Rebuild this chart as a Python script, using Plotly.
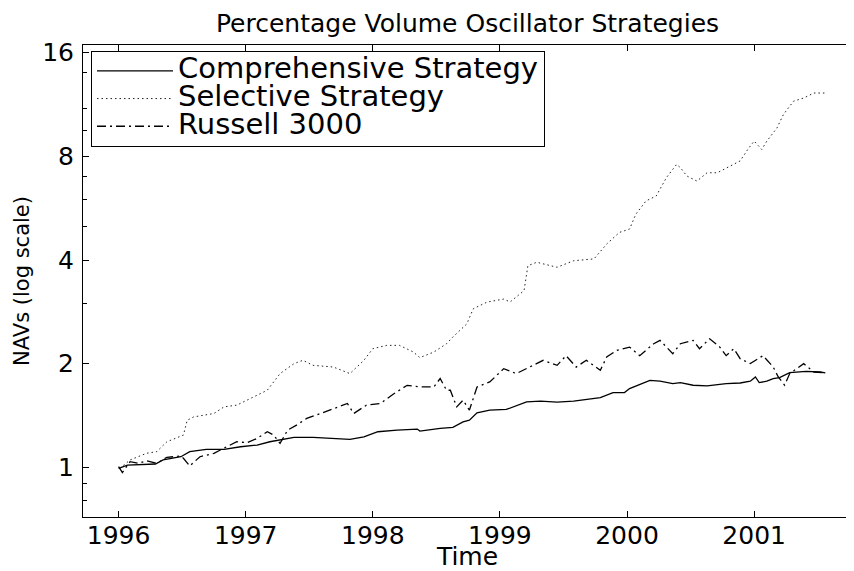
import math
import plotly.graph_objects as go

# ---------------- data ----------------
year_ticks = [1996, 1997, 1998, 1999, 2000, 2001]
nav_ticks = [1, 2, 4, 8, 16]
nav_minor = [0.8, 0.9, 3, 5, 6, 7, 9.5, 11, 14]

comp_t = [1996.00, 1996.07, 1996.29, 1996.35, 1996.49, 1996.56, 1996.69, 1996.83, 1996.96,
          1997.09, 1997.19, 1997.27, 1997.38, 1997.53, 1997.69, 1997.82, 1997.93,
          1998.04, 1998.19, 1998.35, 1998.37, 1998.48, 1998.53, 1998.63, 1998.71, 1998.76, 1998.82, 1998.92,
          1999.05, 1999.21, 1999.32, 1999.45, 1999.58, 1999.79, 1999.89, 1999.98,
          2000.02, 2000.18, 2000.26, 2000.36, 2000.42, 2000.52, 2000.63, 2000.78, 2000.89, 2000.97,
          2001.01, 2001.04, 2001.10, 2001.15, 2001.20, 2001.28, 2001.36, 2001.41, 2001.52, 2001.56]
comp_v = [0.993, 1.015, 1.022, 1.05, 1.073, 1.11, 1.127, 1.127, 1.147,
          1.16, 1.186, 1.2, 1.221, 1.221, 1.213, 1.205, 1.226,
          1.268, 1.282, 1.291, 1.274, 1.291, 1.297, 1.306, 1.355, 1.37, 1.439, 1.465,
          1.472, 1.548, 1.556, 1.545, 1.556, 1.594, 1.648, 1.648,
          1.693, 1.789, 1.778, 1.75, 1.762, 1.731, 1.723, 1.75, 1.757, 1.778,
          1.829, 1.762, 1.778, 1.81, 1.822, 1.883, 1.891, 1.9, 1.891, 1.879]

sel_t = [1996.01, 1996.09, 1996.22, 1996.30, 1996.38, 1996.51, 1996.54, 1996.59, 1996.75, 1996.83, 1996.93,
         1997.06, 1997.17, 1997.27, 1997.38, 1997.45, 1997.53, 1997.69, 1997.82, 1997.93,
         1998.00, 1998.11, 1998.21, 1998.32, 1998.37, 1998.48, 1998.58, 1998.63, 1998.74, 1998.79, 1998.90,
         1999.03, 1999.08, 1999.19, 1999.22, 1999.29, 1999.45, 1999.58, 1999.74, 1999.84, 1999.94,
         2000.02, 2000.07, 2000.15, 2000.23, 2000.31, 2000.39, 2000.42, 2000.47, 2000.55, 2000.63,
         2000.71, 2000.81, 2000.89, 2000.95,
         2001.00, 2001.06, 2001.10, 2001.18, 2001.23, 2001.31, 2001.39, 2001.47, 2001.57]
sel_v = [0.993, 1.05, 1.098, 1.11, 1.186, 1.24, 1.37, 1.40, 1.433, 1.498, 1.515,
         1.601, 1.674, 1.871, 2.0, 2.045, 1.977, 1.955, 1.871, 2.045,
         2.21, 2.26, 2.26, 2.161, 2.082, 2.161, 2.285, 2.39, 2.61, 2.886, 3.02,
         3.08, 3.02, 3.26, 3.85, 3.94, 3.81, 3.98, 4.03, 4.45, 4.81,
         4.92, 5.44, 5.94, 6.14, 6.94, 7.58, 7.42, 7.02, 6.78, 7.17,
         7.17, 7.50, 7.76, 8.38,
         8.86, 8.38, 8.86, 9.68, 10.58, 11.57, 11.82, 12.22, 12.22]

rus_t = [1996.00, 1996.03, 1996.09, 1996.16, 1996.22, 1996.30, 1996.38, 1996.49, 1996.51, 1996.56,
         1996.64, 1996.75, 1996.85, 1996.93,
         1997.01, 1997.09, 1997.17, 1997.22, 1997.27, 1997.33, 1997.40, 1997.48, 1997.59, 1997.69,
         1997.80, 1997.85, 1997.95,
         1998.06, 1998.16, 1998.27, 1998.37, 1998.48, 1998.53, 1998.58, 1998.61, 1998.66, 1998.71,
         1998.76, 1998.82, 1998.92,
         1999.03, 1999.13, 1999.24, 1999.34, 1999.45, 1999.52, 1999.60, 1999.68, 1999.79, 1999.84, 1999.92,
         2000.02, 2000.10, 2000.21, 2000.26, 2000.36, 2000.42, 2000.52, 2000.57, 2000.65, 2000.73,
         2000.78, 2000.84, 2000.89, 2000.97,
         2001.07, 2001.15, 2001.19, 2001.24, 2001.28, 2001.39, 2001.47, 2001.56]
rus_v = [1.004, 0.965, 1.038, 1.027, 1.045, 1.027, 1.069, 1.078, 1.062, 1.009,
         1.073, 1.098, 1.147, 1.186,
         1.178, 1.213, 1.268, 1.24, 1.173, 1.282, 1.326, 1.386, 1.433, 1.482,
         1.532, 1.433, 1.515,
         1.532, 1.63, 1.73, 1.711, 1.711, 1.81, 1.674, 1.674, 1.498, 1.566,
         1.465, 1.711, 1.769,
         1.934, 1.871, 1.955, 2.045, 1.977, 2.11, 1.955, 2.045, 1.913, 2.09, 2.186,
         2.234, 2.11, 2.285, 2.336, 2.138, 2.285, 2.336, 2.21, 2.362, 2.234,
         2.11, 2.21, 2.068, 2.0,
         2.11, 1.955, 1.829, 1.731, 1.871, 2.0, 1.891, 1.879]

series_names = ["Comprehensive Strategy", "Selective Strategy", "Russell 3000"]

# ---------------- figure ----------------
FONT = "DejaVu Sans"
LEG_TXT = 29
# the page body has an 8px default margin, so the figure is sized to fit the 854x571 window
FIG_W, FIG_H = 846, 563


def leg_name(s):
    return '<span style="font-size:%dpx">%s</span>' % (LEG_TXT, s)


fig = go.Figure()
fig.add_trace(go.Scatter(x=comp_t, y=comp_v, mode="lines", name=leg_name(series_names[0]),
                         line=dict(color="black", width=1.3, dash="solid")))
fig.add_trace(go.Scatter(x=sel_t, y=sel_v, mode="lines", name=leg_name(series_names[1]),
                         line=dict(color="#222222", width=1, dash="1.5px,3px")))
fig.add_trace(go.Scatter(x=rus_t, y=rus_v, mode="lines", name=leg_name(series_names[2]),
                         line=dict(color="black", width=1.3, dash="9px,4px,2px,4px")))

axis_common = dict(showline=True, linecolor="black", linewidth=1, mirror="ticks",
                   ticks="inside", ticklen=6, tickcolor="black", tickwidth=1,
                   showgrid=False, zeroline=False,
                   tickfont=dict(family=FONT, size=25, color="black"))

fig.update_layout(
    width=FIG_W, height=FIG_H,
    margin=dict(l=75, r=2, t=37, b=54),
    paper_bgcolor="white", plot_bgcolor="white",
    font=dict(family=FONT, color="black"),
    title=dict(text="Percentage Volume Oscillator Strategies",
               font=dict(family=FONT, size=25, color="black"),
               x=0.5, xref="paper", xanchor="center",
               y=1 - 15 / FIG_H, yref="container", yanchor="middle"),
    xaxis=dict(range=[1995.72, 2001.77], tickmode="array", tickvals=year_ticks,
               ticktext=[str(y) for y in year_ticks], ticklabelstandoff=-4,
               title=dict(text="Time", font=dict(family=FONT, size=25), standoff=1),
               **axis_common),
    yaxis=dict(type="log", range=[math.log10(0.717), math.log10(16.85)],
               tickmode="array", tickvals=nav_ticks, ticktext=[str(v) for v in nav_ticks],
               ticklabelstandoff=3,
               minor=dict(tickmode="array", tickvals=nav_minor, ticks="inside", ticklen=4,
                          tickcolor="black", tickwidth=1, showgrid=False),
               title=dict(text="NAVs (log scale)", font=dict(family=FONT, size=21), standoff=6),
               **axis_common),
    legend=dict(x=(91 - 83) / 769, y=1 - (51 - 45) / 472, xanchor="left", yanchor="top",
                bgcolor="white", bordercolor="black", borderwidth=1,
                font=dict(family=FONT, size=19, color="black"),
                itemwidth=76, tracegroupgap=0),
    showlegend=True,
)

fig.write_html("out.html")
